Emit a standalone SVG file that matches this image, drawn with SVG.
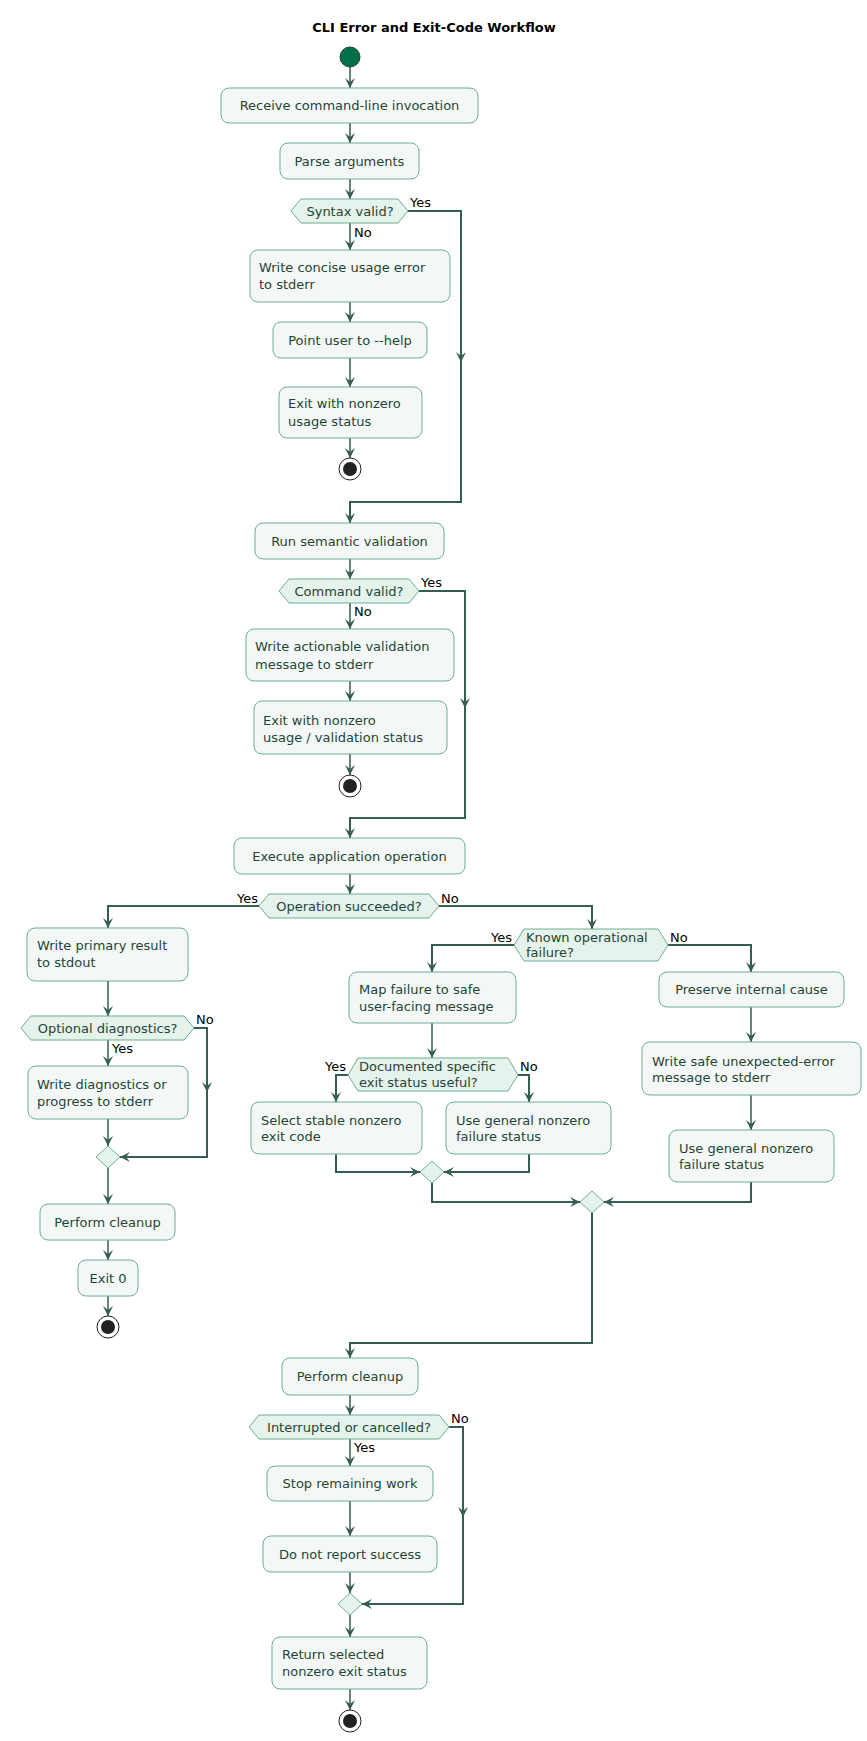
<svg xmlns="http://www.w3.org/2000/svg" width="867" height="1741" viewBox="0 0 867 1741">
<defs>
<marker id="arr" markerUnits="userSpaceOnUse" markerWidth="12" markerHeight="12" refX="10" refY="5" orient="auto"><path d="M0,0 L10,5 L0,10 L4,5 Z" fill="#345E4E"/></marker>
<style>
.b{fill:#F3F8F6;stroke:#6DAF8E;stroke-width:1}
.d{fill:#E6F2EC;stroke:#6DAF8E;stroke-width:1}
.t{font-family:"DejaVu Sans",sans-serif;font-size:13px;fill:#1F4536}
.c{text-anchor:middle}
.l{font-family:"DejaVu Sans",sans-serif;font-size:13px;fill:#000}
.e{fill:none;stroke:#345E4E;stroke-width:1.5;marker-end:url(#arr)}
.f{fill:none;stroke:#345E4E;stroke-width:2;marker-end:url(#arr)}
</style>
</defs>
<rect width="867" height="1741" fill="#fff"/>
<text x="434" y="32" text-anchor="middle" font-family="DejaVu Sans, sans-serif" font-size="13" font-weight="bold">CLI Error and Exit-Code Workflow</text>
<g id="connectors">
<path class="e" d="M350,67 V88"/><path class="e" d="M350,123 V143"/><path class="e" d="M350,179 V199"/><path class="e" d="M350,223 V250"/>
<path class="f" d="M408,211 H461 V362"/><path class="f" d="M461,362 V502 H350 V523"/>
<path class="e" d="M350,302 V322"/><path class="e" d="M350,358 V387"/><path class="e" d="M350,438 V458"/>
<path class="e" d="M350,559 V579"/><path class="e" d="M350,603 V629"/>
<path class="f" d="M419,591 H465 V708"/><path class="f" d="M465,708 V818 H350 V838"/>
<path class="e" d="M350,681 V701"/><path class="e" d="M350,754 V775"/><path class="e" d="M350,874 V894"/>
<path class="f" d="M259,906 H108 V928"/><path class="f" d="M439,906 H592 V929"/>
<path class="e" d="M108,981 V1016"/><path class="e" d="M108,1040 V1066"/>
<path class="f" d="M194,1028 H207 V1092"/><path class="f" d="M207,1092 V1157 H120"/>
<path class="e" d="M108,1119 V1146"/><path class="e" d="M108,1168 V1204"/><path class="e" d="M108,1240 V1260"/><path class="e" d="M108,1296 V1316"/>
<path class="f" d="M514,945 H432 V972"/><path class="f" d="M668,945 H751 V972"/>
<path class="e" d="M432,1023 V1058"/><path class="e" d="M751,1007 V1042"/><path class="e" d="M751,1095 V1130"/>
<path class="f" d="M348,1075 H336 V1102"/><path class="f" d="M518,1075 H529 V1102"/>
<path class="f" d="M336,1154 V1172 H420"/><path class="f" d="M529,1154 V1172 H444"/>
<path class="f" d="M432,1183 V1202 H580"/><path class="f" d="M751,1182 V1202 H604"/>
<path class="f" d="M592,1213 V1343 H350 V1358"/>
<path class="e" d="M350,1395 V1415"/><path class="e" d="M350,1439 V1466"/>
<path class="f" d="M449,1427 H463 V1517"/><path class="f" d="M463,1517 V1604 H362"/>
<path class="e" d="M350,1501 V1536"/><path class="e" d="M350,1572 V1593"/><path class="e" d="M350,1615 V1637"/><path class="e" d="M350,1689 V1710"/>
</g>
<g id="start"><circle cx="350" cy="57" r="10" fill="#00704A" stroke="#1F4536"/></g>
<g id="n1"><rect class="b" x="221" y="88" width="257" height="35" rx="8"/><text class="t c" x="349.5" y="110">Receive command-line invocation</text></g>
<g id="n2"><rect class="b" x="280" y="143" width="139" height="36" rx="8"/><text class="t c" x="349.5" y="166">Parse arguments</text></g>
<g id="d1"><polygon class="d" points="291,211 301,199 398,199 408,211 398,223 301,223"/><text class="t c" x="350" y="216">Syntax valid?</text><text class="l" x="410" y="207">Yes</text><text class="l" x="354" y="237">No</text></g>
<g id="n3"><rect class="b" x="250" y="250" width="200" height="52" rx="8"/><text class="t" x="259" y="272">Write concise usage error</text><text class="t" x="259" y="289">to stderr</text></g>
<g id="n4"><rect class="b" x="273" y="322" width="154" height="36" rx="8"/><text class="t c" x="350" y="345">Point user to --help</text></g>
<g id="n5"><rect class="b" x="279" y="387" width="143" height="51" rx="8"/><text class="t" x="288" y="408">Exit with nonzero</text><text class="t" x="288" y="426">usage status</text></g>
<g id="end1"><circle cx="350" cy="469" r="11" fill="#fff" stroke="#222"/><circle cx="350" cy="469" r="7" fill="#222"/></g>
<g id="n6"><rect class="b" x="255" y="523" width="189" height="36" rx="8"/><text class="t c" x="349.5" y="546">Run semantic validation</text></g>
<g id="d2"><polygon class="d" points="279,591 289,579 409,579 419,591 409,603 289,603"/><text class="t c" x="349" y="596">Command valid?</text><text class="l" x="421" y="587">Yes</text><text class="l" x="354" y="616">No</text></g>
<g id="n7"><rect class="b" x="246" y="629" width="208" height="52" rx="8"/><text class="t" x="255" y="651">Write actionable validation</text><text class="t" x="255" y="669">message to stderr</text></g>
<g id="n8"><rect class="b" x="254" y="701" width="193" height="53" rx="8"/><text class="t" x="263" y="725">Exit with nonzero</text><text class="t" x="263" y="742">usage / validation status</text></g>
<g id="end2"><circle cx="350" cy="786" r="11" fill="#fff" stroke="#222"/><circle cx="350" cy="786" r="7" fill="#222"/></g>
<g id="n9"><rect class="b" x="234" y="838" width="231" height="36" rx="8"/><text class="t c" x="349.5" y="861">Execute application operation</text></g>
<g id="d3"><polygon class="d" points="259,906 269,894 429,894 439,906 429,918 269,918"/><text class="t c" x="349" y="911">Operation succeeded?</text><text class="l" x="258" y="903" text-anchor="end">Yes</text><text class="l" x="441" y="903">No</text></g>
<g id="n10"><rect class="b" x="27" y="928" width="161" height="53" rx="8"/><text class="t" x="37" y="950">Write primary result</text><text class="t" x="37" y="967">to stdout</text></g>
<g id="d4"><polygon class="d" points="21,1028 31,1016 184,1016 194,1028 184,1040 31,1040"/><text class="t c" x="107.5" y="1033">Optional diagnostics?</text><text class="l" x="196" y="1024">No</text><text class="l" x="112" y="1053">Yes</text></g>
<g id="n11"><rect class="b" x="28" y="1066" width="160" height="53" rx="8"/><text class="t" x="37" y="1089">Write diagnostics or</text><text class="t" x="37" y="1106">progress to stderr</text></g>
<g id="m1"><polygon class="d" points="108,1146 120,1157 108,1168 96,1157"/></g>
<g id="n12"><rect class="b" x="40" y="1204" width="135" height="36" rx="8"/><text class="t c" x="107.5" y="1227">Perform cleanup</text></g>
<g id="n13"><rect class="b" x="78" y="1260" width="60" height="36" rx="8"/><text class="t c" x="108" y="1283">Exit 0</text></g>
<g id="end3"><circle cx="108" cy="1327" r="11" fill="#fff" stroke="#222"/><circle cx="108" cy="1327" r="7" fill="#222"/></g>
<g id="d5"><polygon class="d" points="514,945 524,929 658,929 668,945 658,961 524,961"/><text class="t" x="526" y="942">Known operational</text><text class="t" x="526" y="957">failure?</text><text class="l" x="512" y="942" text-anchor="end">Yes</text><text class="l" x="670" y="942">No</text></g>
<g id="n14"><rect class="b" x="349" y="972" width="167" height="51" rx="8"/><text class="t" x="359" y="994">Map failure to safe</text><text class="t" x="359" y="1011">user-facing message</text></g>
<g id="n15"><rect class="b" x="659" y="972" width="185" height="35" rx="8"/><text class="t c" x="751.5" y="994">Preserve internal cause</text></g>
<g id="d6"><polygon class="d" points="348,1075 358,1058 508,1058 518,1075 508,1091 358,1091"/><text class="t" x="359" y="1071">Documented specific</text><text class="t" x="359" y="1087">exit status useful?</text><text class="l" x="346" y="1071" text-anchor="end">Yes</text><text class="l" x="520" y="1071">No</text></g>
<g id="n16"><rect class="b" x="642" y="1042" width="219" height="53" rx="8"/><text class="t" x="652" y="1066">Write safe unexpected-error</text><text class="t" x="652" y="1082">message to stderr</text></g>
<g id="n17"><rect class="b" x="251" y="1102" width="171" height="52" rx="8"/><text class="t" x="261" y="1125">Select stable nonzero</text><text class="t" x="261" y="1141">exit code</text></g>
<g id="n18"><rect class="b" x="446" y="1102" width="165" height="52" rx="8"/><text class="t" x="456" y="1125">Use general nonzero</text><text class="t" x="456" y="1141">failure status</text></g>
<g id="n19"><rect class="b" x="669" y="1130" width="165" height="52" rx="8"/><text class="t" x="679" y="1153">Use general nonzero</text><text class="t" x="679" y="1169">failure status</text></g>
<g id="m2"><polygon class="d" points="432,1161 444,1172 432,1183 420,1172"/></g>
<g id="m3"><polygon class="d" points="592,1191 604,1202 592,1213 580,1202"/></g>
<g id="n20"><rect class="b" x="282" y="1358" width="136" height="37" rx="8"/><text class="t c" x="350" y="1381">Perform cleanup</text></g>
<g id="d7"><polygon class="d" points="249,1427 259,1415 439,1415 449,1427 439,1439 259,1439"/><text class="t c" x="349" y="1432">Interrupted or cancelled?</text><text class="l" x="451" y="1423">No</text><text class="l" x="354" y="1452">Yes</text></g>
<g id="n21"><rect class="b" x="267" y="1466" width="166" height="35" rx="8"/><text class="t c" x="350" y="1488">Stop remaining work</text></g>
<g id="n22"><rect class="b" x="263" y="1536" width="174" height="36" rx="8"/><text class="t c" x="350" y="1559">Do not report success</text></g>
<g id="m4"><polygon class="d" points="350,1593 362,1604 350,1615 338,1604"/></g>
<g id="n23"><rect class="b" x="272" y="1637" width="155" height="52" rx="8"/><text class="t" x="282" y="1659">Return selected</text><text class="t" x="282" y="1676">nonzero exit status</text></g>
<g id="end4"><circle cx="350" cy="1721" r="11" fill="#fff" stroke="#222"/><circle cx="350" cy="1721" r="7" fill="#222"/></g>
</svg>
